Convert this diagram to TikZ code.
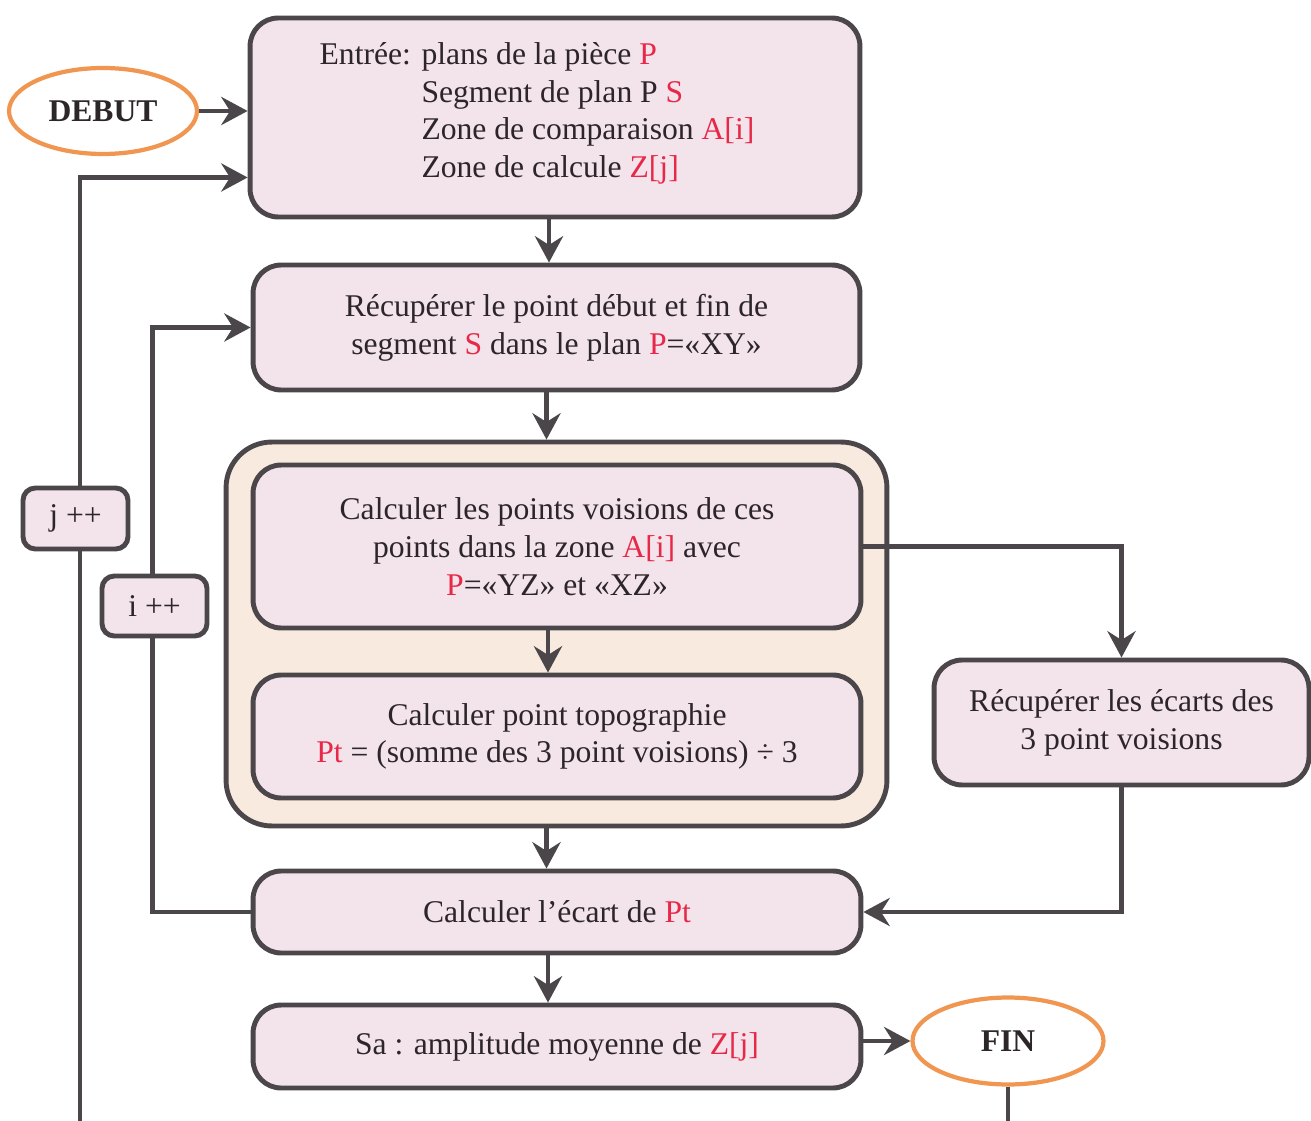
\documentclass[tikz,border=0pt]{standalone}
\usepackage{fontspec}
\setmainfont{Liberation Serif}
\usetikzlibrary{arrows.meta,shapes.geometric}

\definecolor{boxC}{RGB}{243,227,235}
\definecolor{grpC}{RGB}{248,234,222}
\definecolor{lineC}{RGB}{75,70,74}
\definecolor{orangeC}{RGB}{240,150,80}
\definecolor{redC}{RGB}{232,40,72}
\definecolor{textC}{RGB}{45,38,40}

\newcommand{\rd}[1]{\textcolor{redC}{#1}}

\tikzset{
  stepbox/.style={draw=lineC, line width=2.8pt, fill=boxC, rounded corners=16pt,
    align=center, text=textC, inner sep=0pt,
    font=\fontsize{18}{21.5}\selectfont},
  groupbox/.style={draw=lineC, line width=2.8pt, fill=grpC, rounded corners=26pt, inner sep=0pt},
  counter/.style={stepbox, rounded corners=7pt},
  term/.style={ellipse, draw=orangeC, line width=2.4pt, fill=white, inner sep=0pt,
    text=textC, font=\fontsize{18}{21.5}\selectfont\bfseries},
  conn/.style={draw=lineC, line width=2.8pt},
  arr/.style={conn, -{Stealth[length=15pt,width=16pt,inset=5pt]}}
}

\begin{document}
\begin{tikzpicture}[x=0.02cm,y=-0.02cm]
\useasboundingbox (0,0) rectangle (1311,1121);

% terminals
\node[term, minimum width=3.76cm, minimum height=1.72cm] (debut) at (103,111) {DEBUT};
\node[term, minimum width=3.82cm, minimum height=1.74cm] (fin) at (1008,1041) {FIN};

% main steps
\node[stepbox, minimum width=12.2cm, minimum height=3.98cm] (box1) at (555,117.5)
  {\raisebox{0.08cm}[\height][\depth]{\begin{tabular}{@{}l@{ }l@{}}
    Entrée: & plans de la pièce \rd{P}\\
            & Segment de plan P \rd{S}\\
            & Zone de comparaison \rd{A[i]}\\
            & Zone de calcule \rd{Z[j]}
   \end{tabular}}\hspace*{0.72cm}};

\node[stepbox, minimum width=12.14cm, minimum height=2.5cm] (box2) at (556.5,327.5)
  {Récupérer le point début et fin de\\ segment \rd{S} dans le plan \rd{P}=«XY»};

\node[groupbox, minimum width=13.22cm, minimum height=7.68cm] (grp) at (556.5,634) {};

\node[stepbox, minimum width=12.16cm, minimum height=3.26cm] (box3) at (557,546.5)
  {Calculer les points voisions de ces\\ points dans la zone \rd{A[i]} avec\\ \rd{P}=«YZ» et «XZ»};

\node[stepbox, minimum width=12.16cm, minimum height=2.46cm] (box4) at (557,736.5)
  {Calculer point topographie\\ \rd{Pt} = (somme des 3 point voisions) ÷ 3};

\node[stepbox, minimum width=7.5cm, minimum height=2.5cm] (box5) at (1121.5,722.5)
  {Récupérer les écarts des\\ 3 point voisions};

\node[stepbox, minimum width=12.16cm, minimum height=1.64cm] (box6) at (557,912)
  {Calculer l’écart de \rd{Pt}};

\node[stepbox, minimum width=12.16cm, minimum height=1.66cm] (box7) at (557,1046.5)
  {Sa : amplitude moyenne de \rd{Z[j]}};

% loose ends of the loop lines
\coordinate (jend) at (80,1121);
\coordinate (fend) at (1008,1121);

% connectors
\draw[arr] (debut.east) -- (debut.east -| box1.west);
\draw[arr] ([xshift=-0.12cm]box1.south) -- ([xshift=-0.12cm]box1.south |- box2.north);
\draw[arr] ([xshift=-0.2cm]box2.south) -- ([xshift=-0.2cm]box2.south |- grp.north);
\draw[arr] ([xshift=-0.18cm]box3.south) -- ([xshift=-0.18cm]box3.south |- box4.north);
\draw[arr] ([xshift=-0.2cm]grp.south) -- ([xshift=-0.2cm]grp.south |- box6.north);
\draw[arr] ([xshift=-0.18cm]box6.south) -- ([xshift=-0.18cm]box6.south |- box7.north);
\draw[arr] (box3.east) -| (box5.north);
\draw[arr] (box5.south) |- (box6.east);
\draw[arr] (box7.east |- fin.west) -- (fin.west);
\draw[conn] (fin.south) -- (fend);
\draw[arr] (box6.west) -| ([xshift=-1.96cm]box2.west) -- (box2.west);
\draw[arr] (jend) |- ([yshift=-1.2cm]box1.west);

% loop counters, set over their lines
\node[counter, minimum width=2.1cm, minimum height=1.22cm] (jinc) at (75.5,518.5) {j ++};
\node[counter, minimum width=2.1cm, minimum height=1.2cm] (iinc) at (154.5,606) {i ++};
\end{tikzpicture}
\end{document}
